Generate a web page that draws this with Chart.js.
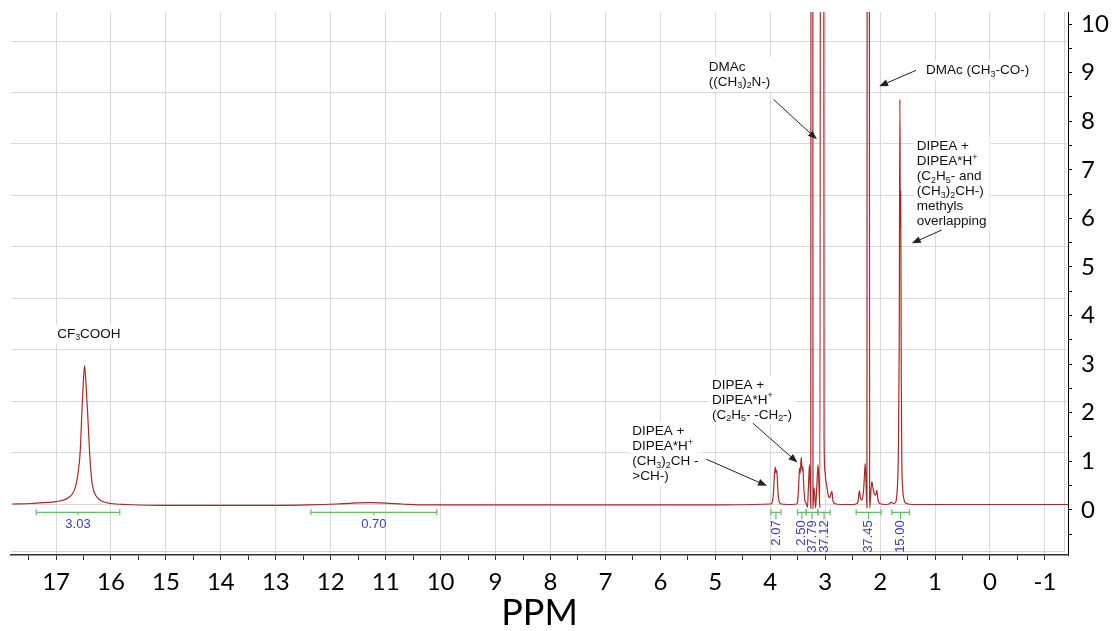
<!DOCTYPE html>
<html>
<head>
<meta charset="utf-8">
<script src="https://cdn.jsdelivr.net/npm/chart.js"></script>
<style>
  html, body { margin: 0; padding: 0; background: #fff; }
  #wrap { width: 1113px; height: 631px; }
</style>
</head>
<body>
<div id="wrap"><canvas id="nmr" width="1113" height="631"></canvas></div>
<script>
// spectrum: chemical shift (ppm) and intensity
const ppm = [
  17.80, 17.45, 17.20, 17.00, 16.82, 16.70, 16.64, 16.60, 16.56, 16.53,
  16.505, 16.48, 16.455, 16.425, 16.39, 16.35, 16.31, 16.25, 16.15, 16.00,
  15.70, 15.00, 14.00, 13.00, 12.40, 11.90, 11.60, 11.30, 11.00, 10.70,
  10.30, 9.50, 8.00, 6.50, 5.00, 4.30, 4.00, 3.97, 3.945, 3.925,
  3.909, 3.896, 3.882, 3.865, 3.85, 3.83, 3.80, 3.60, 3.52, 3.504,
  3.482, 3.468, 3.455, 3.436, 3.418, 3.405, 3.391, 3.373, 3.345, 3.322,
  3.304, 3.286, 3.275, 3.262, 3.252, 3.243, 3.232, 3.222, 3.205, 3.19,
  3.175, 3.15, 3.13, 3.112, 3.095, 3.075, 3.06, 3.04, 3.02, 3.005,
  2.99, 2.965, 2.94, 2.915, 2.895, 2.878, 2.86, 2.83, 2.70, 2.50,
  2.42, 2.40, 2.385, 2.376, 2.36, 2.335, 2.31, 2.29, 2.28, 2.27,
  2.24, 2.227, 2.216, 2.205, 2.19, 2.151, 2.13, 2.109, 2.085, 2.06,
  2.04, 2.01, 1.90, 1.82, 1.80, 1.775, 1.74, 1.71, 1.696, 1.68,
  1.667, 1.652, 1.640, 1.632, 1.625, 1.615, 1.605, 1.59, 1.575, 1.555,
  1.52, 1.40, 0.50, -0.50, -1.42
];
const intensity = [
  0.12, 0.13, 0.15, 0.17, 0.22, 0.33, 0.50, 0.75, 1.20, 2.00,
  2.60, 2.97, 2.60, 2.00, 1.20, 0.60, 0.38, 0.25, 0.17, 0.13,
  0.11, 0.09, 0.09, 0.09, 0.10, 0.12, 0.14, 0.15, 0.14, 0.12,
  0.10, 0.10, 0.10, 0.10, 0.10, 0.11, 0.12, 0.14, 0.30, 0.70,
  0.88, 0.76, 0.82, 0.50, 0.25, 0.15, 0.12, 0.11, 0.12, 0.15,
  0.50, 0.86, 0.75, 1.08, 0.80, 0.89, 0.50, 0.22, 0.13, 0.05,
  0.50, 0.93, 0.55, 0.03, 40, 14, 40, 0.03, 0.45, 0.30,
  0.04, 0.55, 0.93, 0.45, 0.04, 40, 18, 40, 1.50, 0.80,
  0.62, 0.45, 0.28, 0.25, 0.33, 0.38, 0.20, 0.13, 0.11, 0.11,
  0.13, 0.18, 0.35, 0.39, 0.26, 0.20, 0.30, 0.60, 0.82, 0.95,
  0.04, 40, 20, 40, 0.04, 0.58, 0.45, 0.34, 0.30, 0.40,
  0.22, 0.13, 0.11, 0.13, 0.16, 0.14, 0.13, 0.18, 0.30, 0.60,
  1.23, 3.50, 8.45, 5.80, 6.55, 2.80, 1.00, 0.45, 0.27, 0.17,
  0.13, 0.11, 0.11, 0.11, 0.11
];

const xTickLabels = [17, 16, 15, 14, 13, 12, 11, 10, 9, 8, 7, 6, 5, 4, 3, 2, 1, 0, -1];
const yTickLabels = [0, 1, 2, 3, 4, 5, 6, 7, 8, 9, 10];

// integration regions (ppm) and their values
const integralFrom = [17.36, 12.36, 3.987, 3.504, 3.345, 3.133, 2.436, 1.787];
const integralTo = [15.84, 10.07, 3.805, 3.345, 3.133, 2.909, 1.982, 1.467];
const integralValues = ['3.03', '0.70', '2.07', '2.50', '37.79', '37.12', '37.45', '15.00'];

// peak assignments: text anchor and arrow in data units (ppm, intensity)
const notes = [
  { at: [16.98, 3.62], lines: ['CF_3COOH'] },
  { at: [6.51, 1.61], lines: ['DIPEA +', 'DIPEA*H^+', '(CH_3)_2CH -', '>CH-)'], arrow: [5.164, 1.043, 4.06, 0.494] },
  { at: [5.06, 2.57], lines: ['DIPEA +', 'DIPEA*H^+', '(C_2H_5- -CH_2-)'], arrow: [4.315, 1.784, 3.504, 0.973] },
  { at: [5.12, 9.12], lines: ['DMAc', '((CH_3)_2N-)'], arrow: [3.94, 8.45, 3.151, 7.628] },
  { at: [1.164, 9.05], lines: ['DMAc (CH_3-CO-)'], arrow: [1.345, 9.05, 2.018, 8.72] },
  { at: [1.333, 7.475], lines: ['DIPEA +', 'DIPEA*H^+', '(C_2H_5- and', '(CH_3)_2CH-)', 'methyls', 'overlapping'], arrow: [0.878, 5.761, 1.424, 5.488] }
];

const xTicks = [];
xTickLabels.forEach(v => { xTicks.push(v + 0.5, v); });
const yTicks = [-0.5];
yTickLabels.forEach(v => { yTicks.push(v, v + 0.5); });
yTicks.pop();
const gridRows = [0, 1, 2, 3, 4, 5, 6, 7, 8, 9];

const NOTE_FONT = '"Liberation Sans", Arial, sans-serif';
const NOTE_SIZE = 13.5;
const LINE_H = 15;

// draws text with _x subscripts and ^x superscripts, returns width
function richText(ctx, s, x, y, size, draw) {
  let cx = x;
  for (let i = 0; i < s.length; i++) {
    let ch = s[i], dy = 0, fs = size;
    if ((ch === '_' || ch === '^') && i + 1 < s.length) {
      dy = ch === '_' ? size * 0.28 : -size * 0.33;
      fs = size * 0.66;
      ch = s[++i];
    }
    ctx.font = fs + 'px ' + NOTE_FONT;
    if (draw) ctx.fillText(ch, cx, y + dy);
    cx += ctx.measureText(ch).width;
  }
  return cx - x;
}

function arrow(ctx, x1, y1, x2, y2) {
  const a = Math.atan2(y2 - y1, x2 - x1);
  const len = 9, half = 3.5;
  ctx.strokeStyle = '#222';
  ctx.fillStyle = '#222';
  ctx.lineWidth = 1;
  ctx.beginPath();
  ctx.moveTo(x1, y1);
  ctx.lineTo(x2 - len * Math.cos(a), y2 - len * Math.sin(a));
  ctx.stroke();
  ctx.beginPath();
  ctx.moveTo(x2, y2);
  ctx.lineTo(x2 - len * Math.cos(a) + half * Math.sin(a), y2 - len * Math.sin(a) - half * Math.cos(a));
  ctx.lineTo(x2 - len * Math.cos(a) - half * Math.sin(a), y2 - len * Math.sin(a) + half * Math.cos(a));
  ctx.closePath();
  ctx.fill();
}

const notesPlugin = {
  id: 'notes',
  beforeDatasetsDraw(chart) {
    const { ctx, chartArea: ca, scales: { x, y } } = chart;
    ctx.save();
    // inner frame of the spectrum window
    ctx.strokeStyle = '#d4d4d4';
    ctx.lineWidth = 1;
    ctx.beginPath();
    ctx.moveTo(ca.left, ca.bottom - 3.5);
    ctx.lineTo(ca.right - 3.5, ca.bottom - 3.5);
    ctx.lineTo(ca.right - 3.5, ca.top);
    ctx.stroke();

    ctx.textBaseline = 'middle';
    ctx.textAlign = 'left';
    notes.forEach(n => {
      const px = x.getPixelForValue(n.at[0]);
      const py = y.getPixelForValue(n.at[1]);
      let w = 0;
      n.lines.forEach(l => { w = Math.max(w, richText(ctx, l, 0, 0, NOTE_SIZE, false)); });
      ctx.fillStyle = '#fff';
      ctx.fillRect(px - 3, py - LINE_H / 2 - 2, w + 6, n.lines.length * LINE_H + 4);
      ctx.fillStyle = '#111';
      n.lines.forEach((l, i) => richText(ctx, l, px, py + i * LINE_H, NOTE_SIZE, true));
    });
    ctx.restore();
  },
  afterDatasetsDraw(chart) {
    const { ctx, scales: { x, y } } = chart;
    ctx.save();
    notes.forEach(n => {
      if (!n.arrow) return;
      const a = n.arrow;
      arrow(ctx, x.getPixelForValue(a[0]), y.getPixelForValue(a[1]),
        x.getPixelForValue(a[2]), y.getPixelForValue(a[3]));
    });

    // integration brackets
    const yb = y.getPixelForValue(0) + 2.5;
    integralFrom.forEach((from, i) => {
      const x1 = x.getPixelForValue(from);
      const x2 = x.getPixelForValue(integralTo[i]);
      const c = (x1 + x2) / 2;
      const wide = x2 - x1 > 40;
      ctx.strokeStyle = '#66bb66';
      ctx.lineWidth = 1.2;
      ctx.beginPath();
      ctx.moveTo(x1, yb); ctx.lineTo(x2, yb);
      ctx.moveTo(x1, yb - 3); ctx.lineTo(x1, yb + 3);
      ctx.moveTo(x2, yb - 3); ctx.lineTo(x2, yb + 3);
      ctx.moveTo(c, yb); ctx.lineTo(c, yb + (wide ? 3 : 7));
      ctx.stroke();
      ctx.fillStyle = '#3f3fa8';
      ctx.font = '13px ' + NOTE_FONT;
      ctx.textBaseline = 'middle';
      if (wide) {
        ctx.textAlign = 'center';
        ctx.fillText(integralValues[i], c, yb + 12);
      } else {
        ctx.save();
        ctx.translate(c, yb + 8);
        ctx.rotate(-Math.PI / 2);
        ctx.textAlign = 'right';
        ctx.fillText(integralValues[i], 0, 0);
        ctx.restore();
      }
    });
    ctx.restore();
  }
};

new Chart(document.getElementById('nmr'), {
  type: 'line',
  data: {
    datasets: [{
      data: ppm.map((p, i) => ({ x: p, y: intensity[i] })),
      borderColor: '#a52a2a',
      borderWidth: 1.2,
      pointRadius: 0,
      cubicInterpolationMode: 'monotone',
      clip: 0
    }]
  },
  options: {
    responsive: false,
    devicePixelRatio: 1,
    animation: false,
    layout: { padding: { left: 11, top: 12, right: 0, bottom: 0 } },
    plugins: { legend: { display: false }, tooltip: { enabled: false } },
    scales: {
      x: {
        type: 'linear',
        reverse: true,
        min: -1.42,
        max: 17.82,
        afterBuildTicks: s => { s.ticks = xTicks.map(v => ({ value: v })); },
        afterFit: s => { s.height = 76; s.paddingLeft = 0; s.paddingRight = 0; },
        grid: {
          color: c => (c.tick && Number.isInteger(c.tick.value)) ? '#d9d9d9' : 'rgba(0,0,0,0)',
          tickColor: '#333',
          tickLength: 5
        },
        border: { color: '#333', width: 1.5 },
        ticks: {
          callback: v => Number.isInteger(v) ? String(v) : '',
          font: { family: 'Lato', size: 24 },
          color: '#000',
          padding: 8,
          maxRotation: 0,
          autoSkip: false
        },
        title: {
          display: true,
          text: 'PPM',
          font: { family: 'Lato', size: 36, lineHeight: 1 },
          color: '#000',
          padding: 0
        }
      },
      y: {
        position: 'right',
        min: -0.93,
        max: 10.25,
        afterBuildTicks: s => { s.ticks = yTicks.map(v => ({ value: v })); },
        afterFit: s => { s.width = 45; s.paddingTop = 0; s.paddingBottom = 0; },
        grid: { drawOnChartArea: false, tickLength: 4, tickColor: '#000' },
        border: { color: '#000', width: 1 },
        ticks: {
          callback: v => Number.isInteger(v) ? String(v) : '',
          font: { family: 'Lato', size: 24 },
          color: '#000',
          padding: 9,
          autoSkip: false
        }
      },
      yg: {
        position: 'left',
        min: -0.991,
        max: 9.564,
        afterBuildTicks: s => { s.ticks = gridRows.map(v => ({ value: v })); },
        afterFit: s => { s.width = 0; s.paddingTop = 0; s.paddingBottom = 0; },
        grid: { color: '#d9d9d9', drawTicks: false },
        border: { display: false },
        ticks: { display: false }
      }
    }
  },
  plugins: [notesPlugin]
});
</script>
</body>
</html>
